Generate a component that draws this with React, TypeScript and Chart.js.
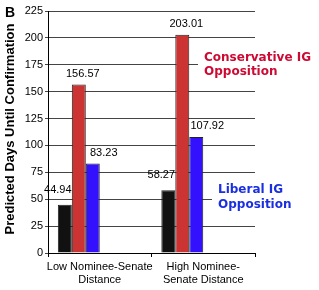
import React, { useEffect, useRef } from "react";
import { Chart, registerables } from "chart.js";

Chart.register(...registerables);

const categories: string[][] = [["Low Nominee-Senate", "Distance"], ["High Nominee-", "Senate Distance"]];
const baseline: number[] = [44.94, 58.27];
const conservative: number[] = [156.57, 203.01];
const liberal: number[] = [83.23, 107.92];
const yTicks: number[] = [0, 25, 50, 75, 100, 125, 150, 175, 200, 225];
const panelLabel = "B";
const yTitle = "Predicted Days Until Confirmation";
const consLabel = ["Conservative IG", "Opposition"];
const libLabel = ["Liberal IG", "Opposition"];

const LABEL_DX = [-7, 4, 11];
const LABEL_DY = [15, 11, 11];

const overlayPlugin = {
  id: "overlay",
  afterDatasetsDraw(chart: any) {
    const ctx = chart.ctx;
    ctx.save();
    ctx.font = "11px 'Liberation Sans', Arial, sans-serif";
    ctx.fillStyle = "#000";
    ctx.textAlign = "center";
    ctx.textBaseline = "middle";
    for (let d = 0; d < 3; d++) {
      const meta = chart.getDatasetMeta(d);
      const ds = chart.data.datasets[d];
      meta.data.forEach((el: any, i: number) => {
        const v = ds.data[i];
        if (v == null) return;
        ctx.fillText(v.toFixed(2), el.x + LABEL_DX[d], el.y - LABEL_DY[d]);
      });
    }
    ctx.textAlign = "left";
    ctx.font = "bold 12px 'DejaVu Sans', Verdana, sans-serif";
    ctx.fillStyle = "#fff";
    ctx.fillRect(198, 50, 121, 30);
    ctx.fillRect(212, 182, 107, 30);
    ctx.fillStyle = "#CC0A33";
    ctx.fillText(consLabel[0], 204, 58);
    ctx.fillText(consLabel[1], 204, 72);
    ctx.fillStyle = "#1A2FE0";
    ctx.fillText(libLabel[0], 218, 190);
    ctx.fillText(libLabel[1], 218, 205);
    ctx.restore();
  },
  afterDraw(chart: any) {
    const ctx = chart.ctx;
    ctx.save();
    ctx.fillStyle = "#000";
    ctx.font = "bold 14px 'Liberation Sans', Arial, sans-serif";
    ctx.textAlign = "left";
    ctx.textBaseline = "middle";
    ctx.fillText(panelLabel, 5, 13);
    ctx.translate(10, 129);
    ctx.rotate(-Math.PI / 2);
    ctx.textAlign = "center";
    ctx.font = "bold 13px 'Liberation Sans', Arial, sans-serif";
    ctx.fillText(yTitle, 0, 0);
    ctx.restore();
  },
};

export default function App() {
  const ref = useRef<HTMLCanvasElement>(null);
  useEffect(() => {
    if (!ref.current) return;
    const border = "#222";
    const chart = new Chart(ref.current, {
      type: "bar",
      data: {
        labels: categories,
        datasets: [
          { data: baseline, backgroundColor: "#111111", borderColor: border, borderWidth: 1 },
          { data: conservative, backgroundColor: "#CC3333", borderColor: border, borderWidth: 1 },
          { data: liberal, backgroundColor: "#3311FF", borderColor: border, borderWidth: 1 },
          { data: [null, null], backgroundColor: "transparent" },
          { data: [null, null], backgroundColor: "transparent" },
          { data: [null, null], backgroundColor: "transparent" },
        ],
      },
      options: {
        animation: false,
        responsive: false,
        maintainAspectRatio: false,
        layout: { padding: { left: 0, right: 64, top: 11, bottom: 0 } },
        plugins: { legend: { display: false }, tooltip: { enabled: false } },
        datasets: { bar: { categoryPercentage: 0.81, barPercentage: 1.0 } },
        scales: {
          x: {
            grid: { display: true, drawOnChartArea: false, offset: true, tickLength: 4, color: "#000" },
            border: { display: true, color: "#000", width: 1 },
            ticks: {
              color: "#000",
              font: { family: "'Liberation Sans', Arial, sans-serif", size: 11, lineHeight: 1.18 },
              padding: 3,
              maxRotation: 0,
              autoSkip: false,
            },
            afterFit(scale: any) { scale.height = 37; },
          },
          y: {
            min: 0,
            max: 225,
            afterBuildTicks(scale: any) { scale.ticks = yTicks.map((v) => ({ value: v })); },
            grid: { color: "#444", lineWidth: 1, tickLength: 3 },
            border: { display: true, color: "#000", width: 1 },
            ticks: {
              color: "#000",
              font: { family: "'Liberation Sans', Arial, sans-serif", size: 11 },
              padding: 2,
            },
            afterFit(scale: any) { scale.width = 48; },
          },
        },
      },
      plugins: [overlayPlugin],
    });
    return () => chart.destroy();
  }, []);
  return (
    <div style={{ position: "absolute", left: 0, top: 0, width: 319, height: 290, background: "#fff" }}>
      <canvas ref={ref} width={319} height={290} style={{ display: "block", width: 319, height: 290 }} />
    </div>
  );
}
